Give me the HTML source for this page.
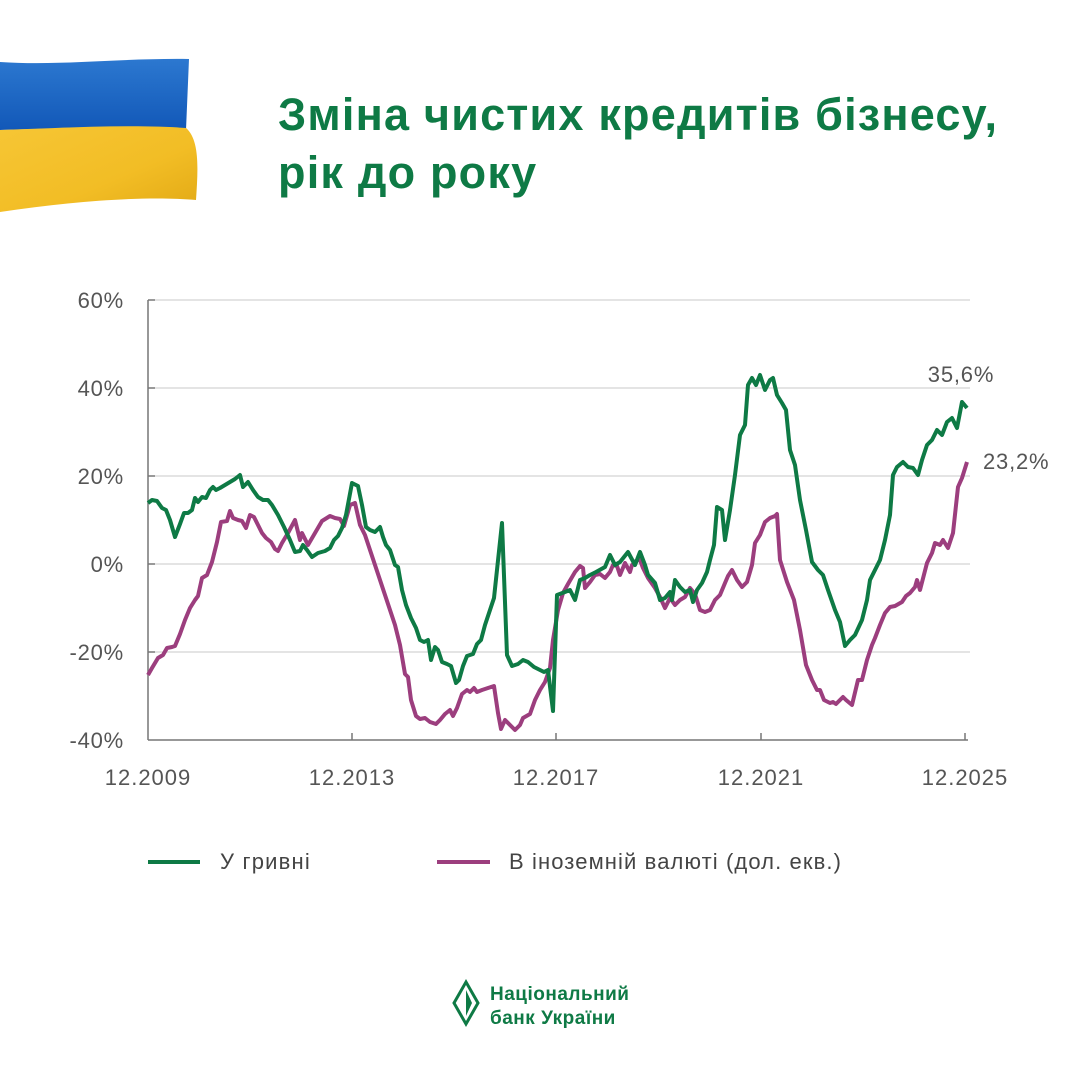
<!DOCTYPE html>
<html><head><meta charset="utf-8"><style>
body{margin:0;width:1080px;height:1080px;background:#fff;overflow:hidden;font-family:"Liberation Sans","DejaVu Sans",sans-serif;}
</style></head><body>
<svg width="1080" height="1080" viewBox="0 0 1080 1080" xmlns="http://www.w3.org/2000/svg">
<defs>
<linearGradient id="bl" x1="0" y1="0" x2="0" y2="1"><stop offset="0" stop-color="#2c78d0"/><stop offset="1" stop-color="#1258b8"/></linearGradient>
<linearGradient id="yl" x1="0" y1="0" x2="1" y2="1"><stop offset="0" stop-color="#f6c635"/><stop offset="0.6" stop-color="#f2bd25"/><stop offset="1" stop-color="#e2a915"/></linearGradient>
</defs>
<path d="M0,62 C60,66 120,58 189,59 L186,130 C130,126 60,128 0,130 Z" fill="url(#bl)"/>
<path d="M0,130 C60,128 130,124 186,128 C200,140 198,170 196,200 C150,196 80,200 0,212 Z" fill="url(#yl)"/>
<g font-size="45" font-weight="bold" fill="#0e7a45" letter-spacing="1.2">
<text x="278" y="130">Зміна чистих кредитів бізнесу,</text>
<text x="278" y="188">рік до року</text>
</g>
<g stroke="#c8c8c8" stroke-width="1">
<line x1="148" y1="300" x2="970" y2="300"/><line x1="148" y1="388" x2="970" y2="388"/><line x1="148" y1="476" x2="970" y2="476"/><line x1="148" y1="564" x2="970" y2="564"/><line x1="148" y1="652" x2="970" y2="652"/>
</g>
<g stroke="#777" stroke-width="1.5">
<line x1="148" y1="300" x2="148" y2="740"/><line x1="148" y1="740" x2="968" y2="740"/>
<line x1="148" y1="300" x2="155" y2="300"/><line x1="148" y1="388" x2="155" y2="388"/><line x1="148" y1="476" x2="155" y2="476"/><line x1="148" y1="564" x2="155" y2="564"/><line x1="148" y1="652" x2="155" y2="652"/>
<line x1="352" y1="733" x2="352" y2="740"/><line x1="556" y1="733" x2="556" y2="740"/><line x1="761" y1="733" x2="761" y2="740"/><line x1="965" y1="733" x2="965" y2="740"/>
</g>
<g font-size="22" fill="#555" text-anchor="end" letter-spacing="0.8">
<text x="124" y="308">60%</text><text x="124" y="396">40%</text><text x="124" y="484">20%</text><text x="124" y="572">0%</text><text x="124" y="660">-20%</text><text x="124" y="748">-40%</text>
</g>
<g font-size="22" fill="#555" text-anchor="middle" letter-spacing="1">
<text x="148" y="785">12.2009</text><text x="352" y="785">12.2013</text><text x="556" y="785">12.2017</text><text x="761" y="785">12.2021</text><text x="965" y="785">12.2025</text>
</g>
<text x="961" y="382" font-size="22" fill="#555" text-anchor="middle" letter-spacing="0.8">35,6%</text>
<text x="983" y="469" font-size="22" fill="#555" letter-spacing="0.8">23,2%</text>
<polyline fill="none" stroke="#9c3e7e" stroke-width="4" stroke-linejoin="round" points="148,675 152,668 158,658 163,655 167,648 172,647 175,646 180,634 185,620 190,608 195,600 198,596 202,578 207,575 212,562 217,542 221,522 227,521 230,511 233,518 238,520 242,521 246,528 250,515 254,517 258,525 262,533 266,538 271,542 275,549 278,551 282,543 288,533 295,520 300,540 302,533 308,545 315,533 322,521 330,516 335,518 340,519 344,526 350,505 355,503 360,525 365,535 370,550 375,565 380,580 385,595 390,610 395,625 400,645 405,674 408,677 411,700 416,716 420,719 425,718 430,722 436,724 440,720 445,714 450,710 453,716 457,708 462,694 467,690 470,692 474,688 477,692 482,690 488,688 494,686 498,713 501,729 505,720 510,725 515,730 520,725 523,718 530,714 535,700 540,690 545,682 550,668 553,640 558,610 563,593 568,584 575,572 580,566 583,568 585,588 590,582 595,575 600,574 605,578 610,572 613,565 617,566 620,575 625,563 630,572 632,565 637,560 640,560 643,568 648,578 655,588 660,597 665,608 670,598 675,605 680,600 685,597 690,588 695,594 700,610 705,612 710,610 715,600 720,595 725,583 728,576 732,570 737,580 742,587 747,582 752,565 755,543 760,535 765,522 770,518 775,516 777,514 780,560 787,582 794,600 800,630 806,665 812,680 817,690 820,690 824,700 830,703 833,702 836,704 840,700 843,697 846,700 852,705 858,680 862,680 867,660 872,645 875,638 880,625 885,613 890,607 895,606 902,602 906,596 910,593 915,587 917,580 920,590 927,563 932,553 935,543 940,545 943,540 948,548 953,533 958,487 962,478 967,462"/>
<polyline fill="none" stroke="#0e7a45" stroke-width="4" stroke-linejoin="round" points="148,503 152,500 157,501 162,508 166,510 170,520 175,537 180,524 184,513 188,513 192,510 195,498 198,502 202,497 206,498 210,490 213,487 216,490 220,488 225,485 230,482 235,479 240,475 243,487 248,482 253,490 258,497 263,500 268,500 272,505 278,515 284,527 290,540 295,552 300,551 303,545 307,550 312,557 318,553 325,551 330,548 334,540 338,536 342,528 346,515 352,483 358,486 362,505 366,527 370,530 375,532 380,527 383,537 386,545 390,550 395,565 398,567 402,590 406,605 411,618 416,628 420,640 424,642 428,640 431,660 435,647 438,650 442,662 447,664 451,666 456,683 459,680 463,666 467,656 473,654 477,644 481,640 485,625 490,610 494,598 502,523 507,655 512,666 518,664 523,660 528,662 534,667 540,670 544,672 548,670 553,711 557,595 565,592 570,590 575,600 580,580 585,578 590,575 596,572 605,567 610,555 615,565 620,562 628,552 635,565 640,552 645,565 648,575 655,583 660,600 665,598 670,592 672,600 675,580 680,587 685,592 690,590 693,602 697,590 702,583 707,572 710,560 714,545 717,507 722,510 725,540 730,510 735,475 740,435 745,425 748,385 752,378 756,385 760,375 765,390 770,380 773,378 777,395 782,403 786,410 790,450 795,465 800,500 806,530 812,562 818,570 823,575 828,590 835,610 840,622 845,646 850,640 855,635 862,620 867,600 870,580 874,572 880,560 885,540 890,515 893,475 897,467 903,462 908,467 913,468 918,475 922,460 927,445 932,440 937,430 942,435 947,422 952,418 957,428 962,402 967,408"/>
<line x1="148" y1="862" x2="200" y2="862" stroke="#0e7a45" stroke-width="4"/>
<text x="220" y="869" font-size="22" fill="#444" letter-spacing="1.2">У гривні</text>
<line x1="437" y1="862" x2="490" y2="862" stroke="#9c3e7e" stroke-width="4"/>
<text x="509" y="869" font-size="22" fill="#444" letter-spacing="1.1">В іноземній валюті (дол. екв.)</text>
<path d="M466,982 L478,1003 L466,1024 L454,1003 Z" fill="none" stroke="#0e7a45" stroke-width="3"/>
<path d="M466,990 L472,1003 L466,1016 Z" fill="#0e7a45"/>
<text x="490" y="1000" font-size="19" font-weight="bold" fill="#0e7a45" letter-spacing="0.5">Національний</text>
<text x="490" y="1024" font-size="19" font-weight="bold" fill="#0e7a45" letter-spacing="0.5">банк України</text>
</svg>
</body></html>
